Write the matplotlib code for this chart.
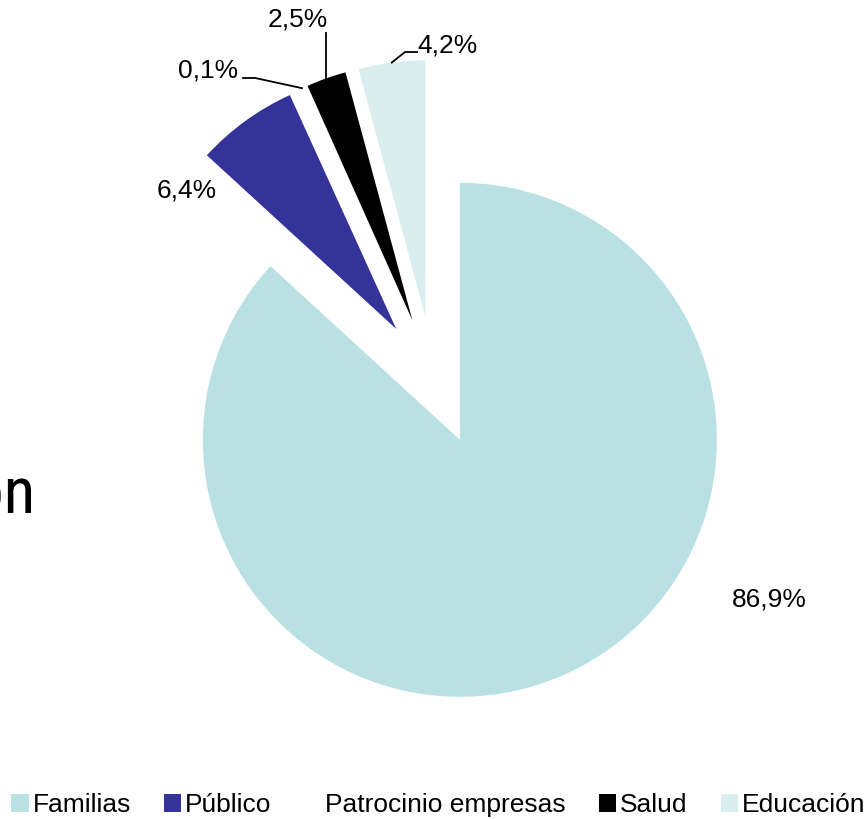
import matplotlib
matplotlib.use("Agg")
import matplotlib.pyplot as plt
import numpy as np

plt.rcParams['font.family'] = ['Liberation Sans', 'DejaVu Sans']

categories = ["Familias", "Público", "Patrocinio empresas", "Salud", "Educación"]
values = [86.9, 6.4, 0.1, 2.5, 4.2]
labels = ["86,9%", "6,4%", "0,1%", "2,5%", "4,2%"]
colors = ["#B9E0E3", "#333399", "#FFFFFF", "#000000", "#DAEEF0"]

W, H = 868, 819
fig = plt.figure(figsize=(W / 100, H / 100), dpi=100)
ax = fig.add_axes([0, 0, 1, 1])
cx, cy, R = 434, 381, 257  # pixel centre and radius

explode = [0.25] * len(values)
wedges, _ = ax.pie(values, explode=explode, colors=colors, startangle=90,
                   counterclock=False, radius=1.0,
                   wedgeprops=dict(linewidth=0), center=(0, 0))
ax.set_xlim(-cx / R, (W - cx) / R)
ax.set_ylim((cy - H) / R, cy / R)
ax.set_aspect('auto')
ax.axis('off')

# label positions (layout)
label_pos = [(1.304, -0.852), (-0.961, 0.743), (-0.879, 1.210),
             (-0.529, 1.405), (0.054, 1.307)]
fs = 19
for lab, (lx, ly) in zip(labels, label_pos):
    ax.text(lx, ly, lab, ha='center', va='center', fontsize=fs, color='black')

def outer_mid(w):
    ang = np.deg2rad((w.theta1 + w.theta2) / 2)
    c = w.center
    return c[0] + w.r * np.cos(ang), c[1] + w.r * np.sin(ang)

# 0,1%
px, py = outer_mid(wedges[2])
ax.plot([-0.743, -0.696, px], [1.179, 1.179, py], color='black', lw=1.3)
# 2,5%
px, py = outer_mid(wedges[3])
ax.plot([px, px], [1.354, py], color='black', lw=1.3)
# 4,2%
px, py = outer_mid(wedges[4])
ax.plot([-0.066, -0.113, px], [1.280, 1.280, py], color='black', lw=1.3)

# cut-off title fragment (the rest lies outside the picture in the reference)
fig.text(35 / W, 1 - 513 / H, "on", ha='right', va='baseline', fontsize=47,
         family=['Roboto Condensed', 'Liberation Sans', 'DejaVu Sans'])

leg = fig.legend(wedges, categories, loc='center', bbox_to_anchor=(0.505, 1 - 805 / H),
                 ncol=5, frameon=False, fontsize=fs, handlelength=0.65,
                 handleheight=0.65, handletextpad=0.15, columnspacing=1.25,
                 borderpad=0, borderaxespad=0)

fig.savefig("out.png", dpi=100)
